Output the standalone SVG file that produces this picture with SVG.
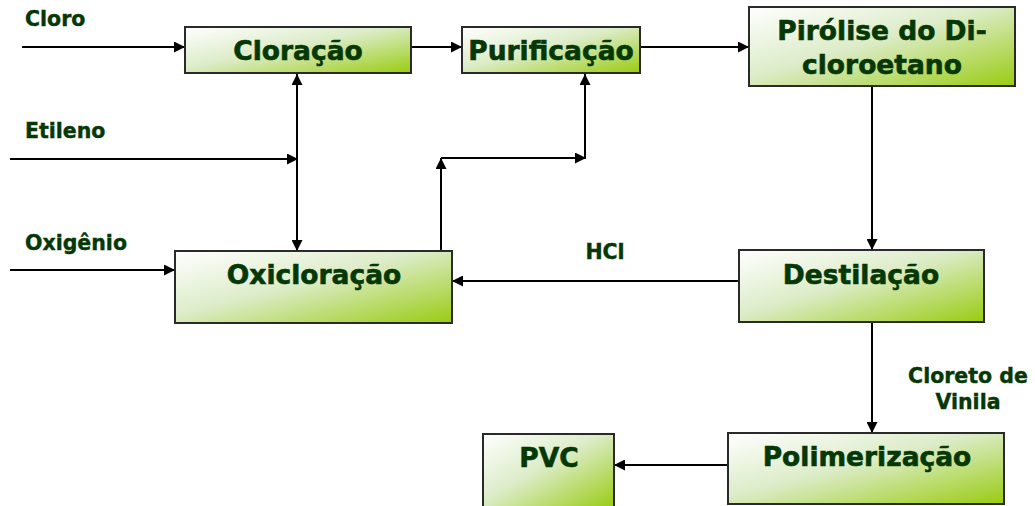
<svg xmlns="http://www.w3.org/2000/svg" width="1035" height="506" viewBox="0 0 1035 506">
<defs>
<linearGradient id="g" x1="0" y1="0" x2="1" y2="1">
<stop offset="0" stop-color="#ffffff"/>
<stop offset="0.45" stop-color="#dcecc8"/>
<stop offset="1" stop-color="#99cc11"/>
</linearGradient>
<marker id="ah" viewBox="0 0 10 10" refX="10" refY="5" markerWidth="5.5" markerHeight="5.5" orient="auto" markerUnits="strokeWidth">
<path d="M0,0 L10,5 L0,10 z" fill="#000"/>
</marker>
</defs>
<style>
.box{fill:url(#g);stroke:#2a2a2a;stroke-width:2}
.t{font-family:"DejaVu Sans","Verdana",sans-serif;font-weight:bold;fill:#053805;stroke:#053805;stroke-width:0.6;text-anchor:middle;font-size:26.5px}
.l{font-family:"DejaVu Sans","Verdana",sans-serif;font-weight:bold;fill:#053805;stroke:#053805;stroke-width:0.4;font-size:20.5px}
.c{stroke:#000;stroke-width:2;fill:none;marker-end:url(#ah)}
</style>
<rect width="1035" height="506" fill="#fff"/>
<g id="connectors">
<line class="c" x1="22" y1="47" x2="185" y2="47"/>
<line class="c" x1="411" y1="47" x2="462" y2="47"/>
<line class="c" x1="640" y1="47" x2="749" y2="47"/>
<line class="c" x1="10" y1="159" x2="298" y2="159"/>
<line class="c" x1="297" y1="159" x2="297" y2="74"/>
<line class="c" x1="297" y1="159" x2="297" y2="251"/>
<line class="c" x1="10" y1="270" x2="175" y2="270"/>
<line class="c" x1="441" y1="251" x2="441" y2="158"/>
<line class="c" x1="441" y1="158" x2="586" y2="158"/>
<line class="c" x1="585" y1="158" x2="585" y2="74"/>
<line class="c" x1="872" y1="86" x2="872" y2="250"/>
<line class="c" x1="739" y1="281" x2="452" y2="281"/>
<line class="c" x1="872" y1="322" x2="872" y2="433"/>
<line class="c" x1="728" y1="465" x2="614" y2="465"/>
<text class="l" x="25" y="26">Cloro</text>
<text class="l" x="25" y="138">Etileno</text>
<text class="l" x="25" y="250">Oxigênio</text>
<text class="l" x="605" y="259" text-anchor="middle">HCl</text>
<text class="l" x="968" y="383" text-anchor="middle">Cloreto de</text>
<text class="l" x="968" y="409" text-anchor="middle">Vinila</text>
</g>
<g id="cloracao">
<rect class="box" x="185" y="27" width="226" height="46"/>
<text class="t" x="298" y="60">Cloração</text>
</g>
<g id="purificacao">
<rect class="box" x="462" y="27" width="178" height="46"/>
<text class="t" x="551" y="60">Purificação</text>
</g>
<g id="pirolise">
<rect class="box" x="749" y="7" width="266" height="79"/>
<text class="t" x="882" y="40">Pirólise do Di-</text>
<text class="t" x="882" y="74">cloroetano</text>
</g>
<g id="oxicloracao">
<rect class="box" x="175" y="251" width="277" height="72"/>
<text class="t" x="314" y="284">Oxicloração</text>
</g>
<g id="destilacao">
<rect class="box" x="739" y="250" width="245" height="72"/>
<text class="t" x="861" y="284">Destilação</text>
</g>
<g id="polimerizacao">
<rect class="box" x="728" y="433" width="276" height="71"/>
<text class="t" x="867" y="466">Polimerização</text>
</g>
<g id="pvc">
<rect class="box" x="483" y="434" width="131" height="74"/>
<text class="t" x="549" y="467">PVC</text>
</g>
</svg>
